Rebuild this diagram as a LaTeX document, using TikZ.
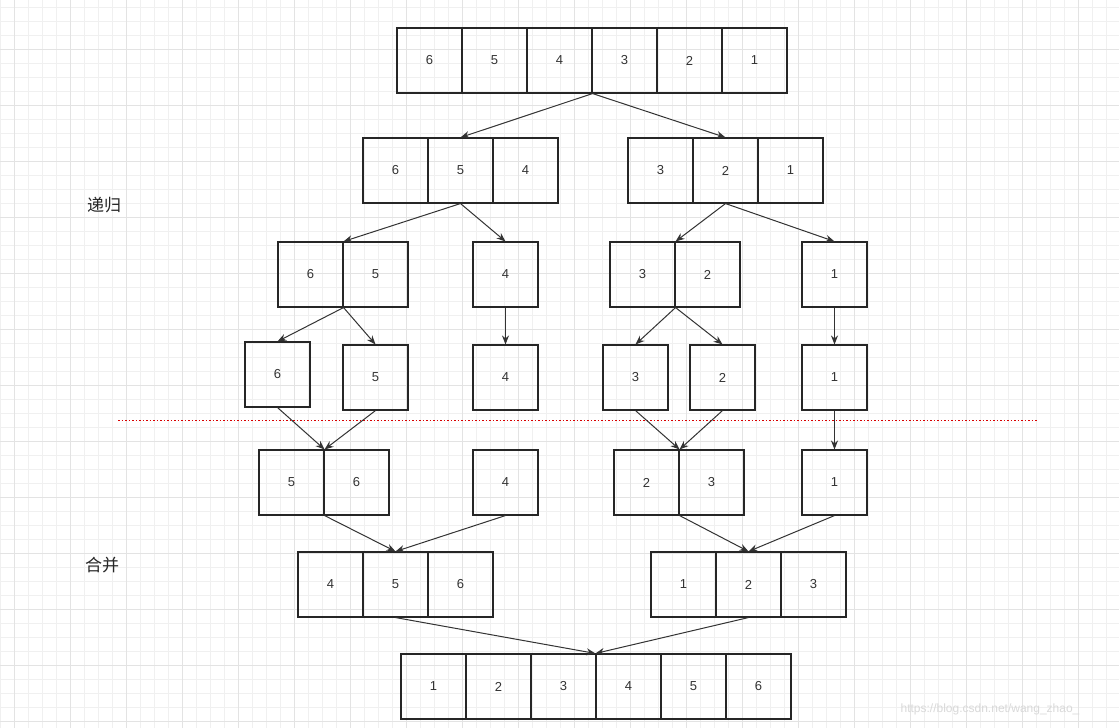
\documentclass[tikz,border=0pt]{standalone}
\usepackage{fontspec}
\setmainfont{Liberation Sans}
\newfontfamily\cjk{Noto Sans CJK SC}
\usetikzlibrary{arrows.meta}
\begin{document}
\begin{tikzpicture}[x=1pt,y=-1pt,
  cell/.style={draw=black!85,line width=1.1pt,minimum width=65pt,minimum height=65pt,inner sep=0pt,font=\fontsize{13}{13}\selectfont,text=black!80},
  arr/.style={draw=black!80,line width=1pt,-{Stealth[length=9pt,width=7pt]}}]
\useasboundingbox (0,0) rectangle (1119,728);
\fill[white] (0,0) rectangle (1119,728);
\foreach \x in {0,14,...,1119} \draw[black!6,line width=0.6pt] (\x,0) -- (\x,728);
\foreach \y in {7,21,...,728} \draw[black!6,line width=0.6pt] (0,\y) -- (1119,\y);
\foreach \x in {14,70,...,1119} \draw[black!11,line width=0.8pt] (\x,0) -- (\x,728);
\foreach \y in {49,105,...,728} \draw[black!11,line width=0.8pt] (0,\y) -- (1119,\y);
% row 1
\foreach \v [count=\i] in {6,5,4,3,2,1} \node[cell] (a\i) at (397+65*\i-32.5,60.5) {\v};
% row 2
\foreach \v [count=\i] in {6,5,4} \node[cell] (bl\i) at (363+65*\i-32.5,170.5) {\v};
\foreach \v [count=\i] in {3,2,1} \node[cell] (br\i) at (628+65*\i-32.5,170.5) {\v};
% row 3
\node[cell] (c1) at (310.5,274.5) {6};
\node[cell] (c2) at (375.5,274.5) {5};
\node[cell] (c3) at (505.5,274.5) {4};
\node[cell] (c4) at (642.5,274.5) {3};
\node[cell] (c5) at (707.5,274.5) {2};
\node[cell] (c6) at (834.5,274.5) {1};
% row 4
\node[cell] (d1) at (277.5,374.5) {6};
\node[cell] (d2) at (375.5,377.5) {5};
\node[cell] (d3) at (505.5,377.5) {4};
\node[cell] (d4) at (635.5,377.5) {3};
\node[cell] (d5) at (722.5,377.5) {2};
\node[cell] (d6) at (834.5,377.5) {1};
% red line
\draw[red!85!black,line width=1pt,dash pattern=on 1.5pt off 2pt] (118,420) -- (1038,420);
% row 5
\node[cell] (e1) at (291.5,482.5) {5};
\node[cell] (e2) at (356.5,482.5) {6};
\node[cell] (e3) at (505.5,482.5) {4};
\node[cell] (e4) at (646.5,482.5) {2};
\node[cell] (e5) at (711.5,482.5) {3};
\node[cell] (e6) at (834.5,482.5) {1};
% row 6
\foreach \v [count=\i] in {4,5,6} \node[cell] (fl\i) at (298+65*\i-32.5,584.5) {\v};
\foreach \v [count=\i] in {1,2,3} \node[cell] (fr\i) at (651+65*\i-32.5,584.5) {\v};
% row 7
\foreach \v [count=\i] in {1,2,3,4,5,6} \node[cell] (g\i) at (401+65*\i-32.5,686.5) {\v};
% labels
\node[font=\cjk\fontsize{17}{17}\selectfont,text=black!85] (l1) at (104,205) {递归};
\node[font=\cjk\fontsize{17}{17}\selectfont,text=black!85] (l2) at (102,565) {合并};
\node[font=\fontsize{12}{12}\selectfont,text=black!15] (wm) at (990,709) {https://blog.csdn.net/wang\_zhao\_};
% arrows
\draw[arr] (a3.south east) -- (bl2.north);
\draw[arr] (a3.south east) -- (br2.north);
\draw[arr] (bl2.south) -- (c1.north east);
\draw[arr] (bl2.south) -- (c3.north);
\draw[arr] (br2.south) -- (c4.north east);
\draw[arr] (br2.south) -- (c6.north);
\draw[arr] (c1.south east) -- (d1.north);
\draw[arr] (c1.south east) -- (d2.north);
\draw[arr] (c3.south) -- (d3.north);
\draw[arr] (c4.south east) -- (d4.north);
\draw[arr] (c4.south east) -- (d5.north);
\draw[arr] (c6.south) -- (d6.north);
\draw[arr] (d1.south) -- (e1.north east);
\draw[arr] (d2.south) -- (e1.north east);
\draw[arr] (d4.south) -- (e4.north east);
\draw[arr] (d5.south) -- (e4.north east);
\draw[arr] (d6.south) -- (e6.north);
\draw[arr] (e1.south east) -- (fl2.north);
\draw[arr] (e3.south) -- (fl2.north);
\draw[arr] (e4.south east) -- (fr2.north);
\draw[arr] (e6.south) -- (fr2.north);
\draw[arr] (fl2.south) -- (g4.north west);
\draw[arr] (fr2.south) -- (g4.north west);
\end{tikzpicture}
\end{document}
